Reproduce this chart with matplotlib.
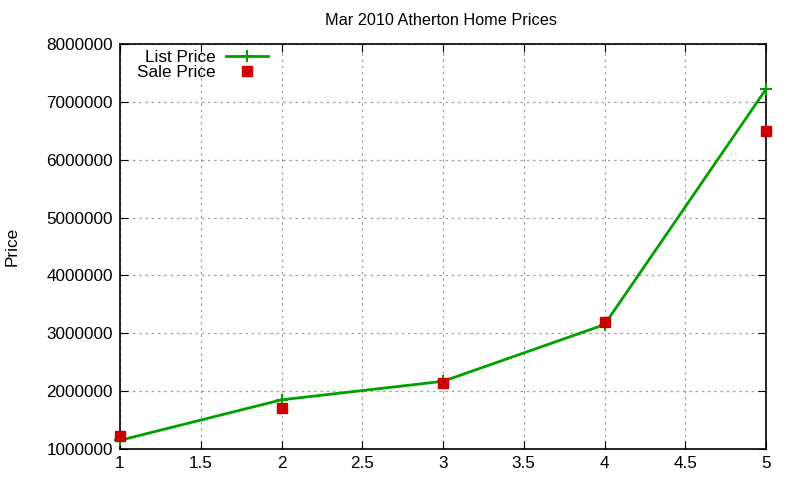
import matplotlib
matplotlib.use('Agg')
from matplotlib import pyplot as plt

plt.rcParams['font.family'] = ['Liberation Sans', 'DejaVu Sans']

bedrooms = [1, 2, 3, 4, 5]
list_price = [1150000, 1850000, 2170000, 3150000, 7220000]
sale_price = [1220000, 1700000, 2140000, 3200000, 6500000]

fig = plt.figure(figsize=(8, 4.8), dpi=100)
ax = fig.add_axes([0.15, 0.0646, 0.8075, 0.8437])

ax.plot(bedrooms, list_price, color='#00a000', lw=2, marker='+', ms=9, mew=1.5,
        label='List Price', clip_on=False, zorder=3)
ax.plot(bedrooms, sale_price, ls='none', color='#cc0000', marker='s', ms=6.5,
        label='Sale Price', clip_on=False, zorder=4)

ax.set_xlim(1, 5)
ax.set_ylim(1000000, 8000000)
ax.set_xticks([1, 1.5, 2, 2.5, 3, 3.5, 4, 4.5, 5])
ax.set_xticklabels(['1', '1.5', '2', '2.5', '3', '3.5', '4', '4.5', '5'])
ax.set_yticks(range(1000000, 8000001, 1000000))
ax.set_yticklabels([str(v) for v in range(1000000, 8000001, 1000000)])
ax.tick_params(direction='in', top=True, right=True, labelsize=12.3, length=6, pad=5)
ax.grid(True, color='#a0a0a0', ls=(0, (2, 3)), lw=0.9)
for s in ax.spines.values():
    s.set_linewidth(1.2)

ax.set_ylabel('Price', fontsize=12.3, labelpad=19)
fig.text(0.551, 0.957, 'Mar 2010 Atherton Home Prices', ha='center', va='center', fontsize=11.7)

ax.legend(loc='upper left', bbox_to_anchor=(0.005, 1.02), markerfirst=False, frameon=False,
          fontsize=12.3, handlelength=2.5, handletextpad=0.6, labelspacing=0.0, borderpad=0.3)

plt.savefig('out.png', dpi=100)
